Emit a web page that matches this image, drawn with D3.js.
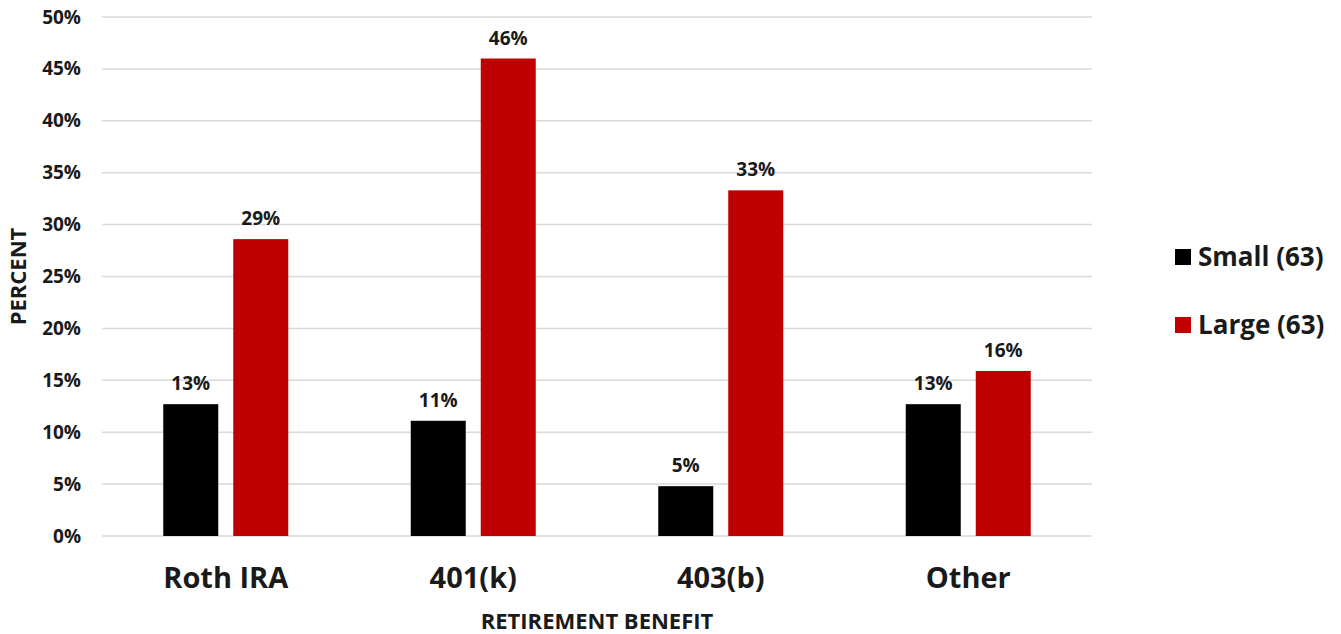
<!DOCTYPE html>
<html>
<head>
<meta charset="utf-8">
<script src="https://cdn.jsdelivr.net/npm/d3@7"></script>
<style>
  body { margin: 0; background: #fff; }
  text { font-family: "Open Sans", "Noto Sans", sans-serif; font-weight: 700; fill: #1a1a1a; }
</style>
</head>
<body>
<div id="plot"></div>
<script>
// data
var categories = ['Roth IRA', '401(k)', '403(b)', 'Other'];
var seriesNames = ['Small (63)', 'Large (63)'];
var smallValues = [12.7, 11.1, 4.8, 12.7];
var largeValues = [28.6, 46.0, 33.3, 15.9];
var yTicks = [0, 5, 10, 15, 20, 25, 30, 35, 40, 45, 50];
var colors = ['#000000', '#C00000'];

var margin = {t:17, r:249, b:98, l:102};
var W = 1341, H = 634;
var width1 = W - margin.l - margin.r,
    height1 = H - margin.t - margin.b;

var svg = d3.select('#plot').append('svg')
    .attr('width', W)
    .attr('height', H);

var plot = svg.append('g')
    .attr('transform', 'translate(' + margin.l + ',' + margin.t + ')');

var x = d3.scaleBand().domain(categories).range([0, width1]);
var y = d3.scaleLinear().domain([0, 50]).range([height1, 0]);

// gridlines
plot.selectAll('.grid')
    .data(yTicks)
    .enter()
    .append('line')
    .attr('x1', 0)
    .attr('x2', width1)
    .attr('y1', function(d){ return y(d); })
    .attr('y2', function(d){ return y(d); })
    .attr('stroke', '#d9d9d9')
    .attr('stroke-width', 1.5);

// y axis labels
var yAxis = d3.axisLeft(y).tickValues(yTicks).tickSize(0).tickPadding(21)
    .tickFormat(function(d){ return d + '%'; });
var yg = plot.append('g').call(yAxis);
yg.select('.domain').remove();
yg.selectAll('text').style('font-size', '19px').attr('fill', '#1a1a1a');

// x axis labels
var xAxis = d3.axisBottom(x).tickSize(0).tickPadding(31);
var xg = plot.append('g').attr('transform', 'translate(0,' + height1 + ')').call(xAxis);
xg.select('.domain').remove();
xg.selectAll('text').style('font-size', '29px').attr('fill', '#1a1a1a');

// bars
var barW = 55, gap = 15;
var series = [smallValues, largeValues];
series.forEach(function(vals, s){
    var off = s === 0 ? -(gap/2 + barW) : gap/2;
    var rows = categories.map(function(c, i){ return {cat:c, v:vals[i]}; });
    plot.selectAll('.bar' + s)
        .data(rows)
        .enter()
        .append('rect')
        .attr('x', function(d){ return x(d.cat) + x.bandwidth()/2 + off; })
        .attr('y', function(d){ return y(d.v); })
        .attr('width', barW)
        .attr('height', function(d){ return height1 - y(d.v); })
        .attr('fill', colors[s]);

    plot.selectAll('.lab' + s)
        .data(rows)
        .enter()
        .append('text')
        .attr('x', function(d){ return x(d.cat) + x.bandwidth()/2 + off + barW/2; })
        .attr('y', function(d){ return y(d.v) - 14; })
        .attr('text-anchor', 'middle')
        .style('font-size', '19px')
        .text(function(d){ return Math.round(d.v) + '%'; });
});

// axis titles
svg.append('text')
    .attr('x', margin.l + width1/2)
    .attr('y', 629)
    .attr('text-anchor', 'middle')
    .style('font-size', '22px')
    .text('RETIREMENT BENEFIT');

svg.append('text')
    .attr('transform', 'translate(26,' + (margin.t + height1/2) + ') rotate(-90)')
    .attr('text-anchor', 'middle')
    .style('font-size', '22px')
    .text('PERCENT');

// legend
var legend = svg.selectAll('.legend')
    .data(seriesNames)
    .enter()
    .append('g')
    .attr('transform', function(d, i){ return 'translate(1175,' + (257 + i*68) + ')'; });

legend.append('rect')
    .attr('x', 0)
    .attr('y', -8)
    .attr('width', 16)
    .attr('height', 16)
    .attr('fill', function(d, i){ return colors[i]; });

legend.append('text')
    .attr('x', 23)
    .attr('y', 9)
    .style('font-size', '26px')
    .text(function(d){ return d; });
</script>
</body>
</html>
